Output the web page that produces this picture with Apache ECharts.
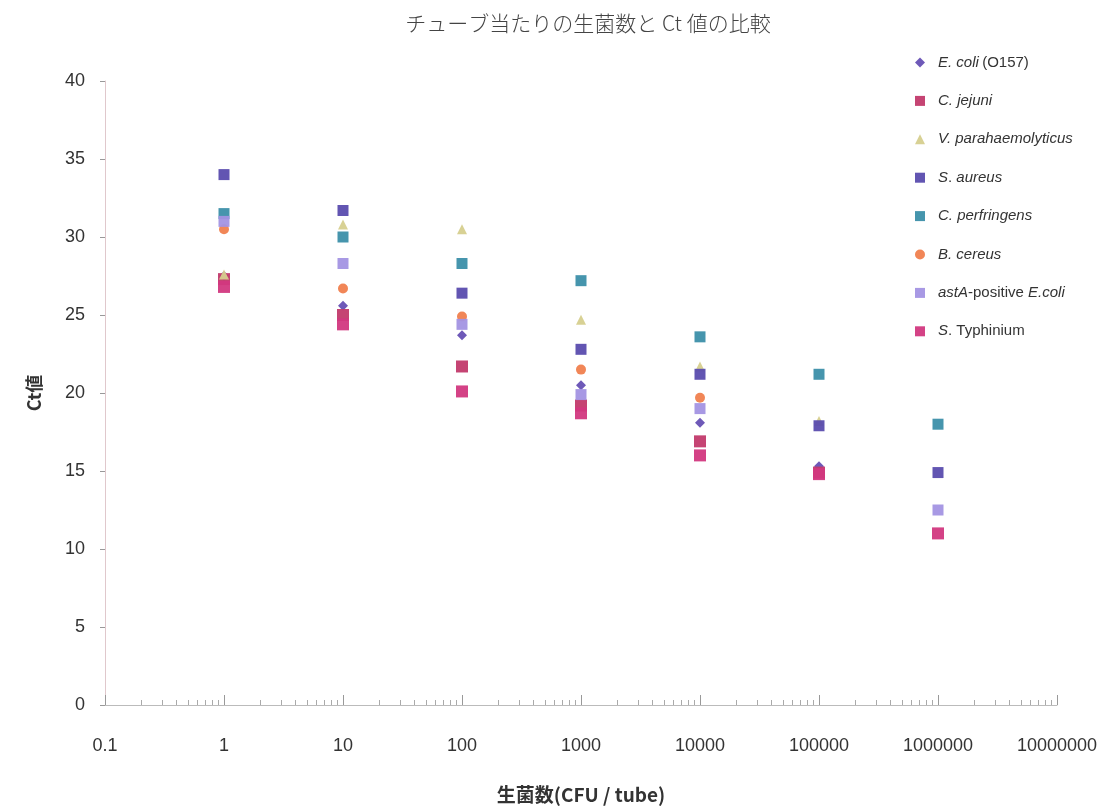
<!DOCTYPE html>
<html><head><meta charset="utf-8">
<script src="https://cdn.jsdelivr.net/npm/echarts@6/dist/echarts.min.js"></script>
<style>html,body{margin:0;padding:0;background:#fff}#c{width:1116px;height:808px}</style>
</head><body><div id="c"></div>
<script>
const xValues = [1, 10, 100, 1000, 10000, 100000, 1000000];
const xTickLabels = ['0.1','1','10','100','1000','10000','100000','1000000','10000000'];
const seriesNames = ['E. coli (O157)','C. jejuni','V. parahaemolyticus','S. aureus','C. perfringens','B. cereus','astA-positive E.coli','S. Typhinium'];
const ecoliO157 = [27.5, 25.6, 23.7, 20.5, 18.1, 15.3, null];
const cJejuni   = [27.3, 25.0, 21.7, 19.2, 16.9, 14.9, null];
const vPara     = [27.6, 30.8, 30.5, 24.7, 21.7, 18.2, null];
const sAureus   = [34.0, 31.7, 26.4, 22.8, 21.2, 17.9, 14.9];
const cPerf     = [31.5, 30.0, 28.3, 27.2, 23.6, 21.2, 18.0];
const bCereus   = [30.5, 26.7, 24.9, 21.5, 19.7, null, null];
const astA      = [31.0, 28.3, 24.4, 19.9, 19.0, null, 12.5];
const sTyph     = [26.8, 24.4, 20.1, 18.7, 16.0, 14.8, 11.0];

const values = [ecoliO157, cJejuni, vPara, sAureus, cPerf, bCereus, astA, sTyph];
const symbols = ['diamond','rect','triangle','rect','rect','circle','rect','rect'];
const sizes = [10, 12, 10, 11, 11, 10, 11, 12];
const colors = ['#6650b4','#c23a6c','#d6cf8e','#5a4cae','#3c8fa9','#f07f4e','#a393e3','#d2387f'];

function pairs(arr){ const o=[]; arr.forEach((v,i)=>{ if(v!==null) o.push([xValues[i], v]); }); return o; }

const legendRich = {
  i:{fontStyle:'italic',fontSize:15,color:'#333',fontFamily:'Liberation Sans, Arial'},
  n:{fontStyle:'normal',fontSize:15,color:'#333',fontFamily:'Liberation Sans, Arial'}
};
const legendFmt = {
  'E. coli (O157)':'{i|E. coli} {n|(O157)}',
  'C. jejuni':'{i|C. jejuni}',
  'V. parahaemolyticus':'{i|V. parahaemolyticus}',
  'S. aureus':'{i|S}{n|. }{i|aureus}',
  'C. perfringens':'{i|C. perfringens}',
  'B. cereus':'{i|B. cereus}',
  'astA-positive E.coli':'{i|astA}{n|-positive }{i|E.coli}',
  'S. Typhinium':'{i|S}{n|. Typhinium}'
};

const chart = echarts.init(document.getElementById('c'));
chart.setOption({
  animation:false,
  title:{text:'チューブ当たりの生菌数と Ct 値の比較',left:583,textAlign:'center',top:8,
    textStyle:{fontFamily:'Noto Sans CJK JP',fontWeight:300,fontSize:21,color:'#444'}},
  grid:{left:105,right:59,top:81,bottom:103,outerBoundsMode:'none',containLabel:false},
  legend:{orient:'vertical',left:910,top:50,itemGap:23.4,itemWidth:10,itemHeight:10,
    data:seriesNames,formatter:n=>legendFmt[n],textStyle:{rich:legendRich,padding:[0,0,0,8]}},
  xAxis:{type:'log',logBase:10,min:0.1,max:10000000,
    name:'生菌数(CFU / tube)',nameLocation:'middle',nameGap:80,
    nameTextStyle:{fontFamily:'Noto Sans CJK JP',fontWeight:'bold',fontSize:19,color:'#333'},
    axisLine:{lineStyle:{color:'#bbb'}},
    axisTick:{inside:true,length:10,lineStyle:{color:'#999'}},
    minorTick:{show:true,splitNumber:9,length:5,lineStyle:{color:'#aaa'}},
    splitLine:{show:false},
    axisLabel:{margin:32,fontSize:18,color:'#333',fontFamily:'Liberation Sans, Arial',
      formatter:v=>{const k=Math.round(Math.log10(v))+1;return xTickLabels[k]!==undefined?xTickLabels[k]:String(v);}}
  },
  yAxis:{type:'value',min:0,max:40,interval:5,
    name:'Ct値',nameLocation:'middle',nameGap:62,nameRotate:90,
    nameTextStyle:{fontFamily:'Noto Sans CJK JP',fontWeight:'bold',fontSize:18,color:'#333'},
    axisLine:{show:true,lineStyle:{color:'#e0c8cc'}},
    axisTick:{show:true,length:5,lineStyle:{color:'#999'}},
    splitLine:{show:false},
    axisLabel:{margin:20,fontSize:18,color:'#333',fontFamily:'Liberation Sans, Arial'}
  },
  series: seriesNames.map((n,i)=>({
    name:n,type:'scatter',symbol:symbols[i],symbolSize:sizes[i],
    itemStyle:{color:colors[i],opacity:0.95},data:pairs(values[i])
  }))
});
</script></body></html>
